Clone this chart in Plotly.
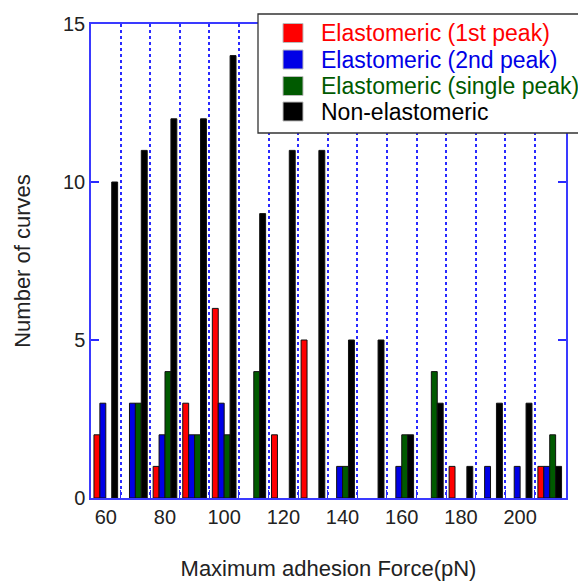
import plotly.graph_objects as go

forces = [60, 70, 80, 90, 100, 110, 120, 130, 140, 150, 160, 170, 180, 190, 200, 210]
first_peak = [2, 0, 1, 3, 6, 0, 2, 5, 0, 0, 0, 0, 1, 0, 0, 1]
second_peak = [3, 3, 2, 2, 3, 0, 0, 0, 1, 0, 1, 0, 0, 1, 1, 1]
single_peak = [0, 3, 4, 2, 2, 4, 0, 0, 1, 0, 2, 4, 0, 0, 0, 2]
non_elastomeric = [10, 11, 12, 12, 14, 9, 11, 11, 5, 5, 2, 3, 1, 3, 3, 1]

series_names = ["Elastomeric (1st peak)", "Elastomeric (2nd peak)",
                "Elastomeric (single peak)", "Non-elastomeric"]
series_colors = ["#ff0000", "#0000e6", "#005a00", "#000000"]
series_values = [first_peak, second_peak, single_peak, non_elastomeric]

x_tick_vals = [60, 80, 100, 120, 140, 160, 180, 200]
grid_vals = [65, 75, 85, 95, 105, 115, 125, 135, 145, 155, 165, 175, 185, 195, 205]
y_tick_vals = [0, 5, 10, 15]

FONT = "Liberation Sans, Arial, sans-serif"

# page offset (default body margin) and plot area in page pixels
OFF = 8
PL, PR, PT, PB = 91, 566, 24, 498
W, H = 586 - OFF, 581 - OFF


def px_x(x):
    return (x - PL) / (PR - PL)


def px_y(y):
    return (PB - y) / (PB - PT)


fig = go.Figure()
for name, color, vals in zip(series_names, series_colors, series_values):
    fig.add_trace(go.Bar(
        x=forces, y=vals, name=name, showlegend=False,
        marker=dict(color=color,
                    line=dict(color="#111111", width=[1 if v else 0 for v in vals])),
    ))

# legend box drawn by hand (larger swatches, tighter rows than plotly's legend)
shapes = [dict(type="rect", xref="paper", yref="paper",
               x0=px_x(258), x1=px_x(600), y0=px_y(133), y1=px_y(14),
               line=dict(color="#333333", width=1.3), fillcolor="white",
               layer="above")]
annotations = []
row_centers = [33, 59.5, 86, 111.5]
for name, color, yc in zip(series_names, series_colors, row_centers):
    shapes.append(dict(type="rect", xref="paper", yref="paper",
                       x0=px_x(283), x1=px_x(303),
                       y0=px_y(yc + 9.5), y1=px_y(yc - 9.5),
                       fillcolor=color, line=dict(color="#bbbbbb", width=1),
                       layer="above"))
    annotations.append(dict(xref="paper", yref="paper", x=px_x(319), y=px_y(yc),
                            xanchor="left", yanchor="middle", showarrow=False,
                            text=name, font=dict(family=FONT, size=23, color=color)))

fig.update_layout(
    width=W, height=H,
    margin=dict(l=PL - OFF, r=W + OFF - PR, t=PT - OFF, b=H + OFF - PB),
    paper_bgcolor="white", plot_bgcolor="white",
    barmode="group", bargap=0.2, bargroupgap=0.0,
    font=dict(family=FONT, size=20, color="#222222"),
    showlegend=False,
    shapes=shapes, annotations=annotations,
)
fig.update_xaxes(
    range=[55, 215.5], tickvals=x_tick_vals, ticks="", showgrid=False,
    showline=True, linecolor="#3a3aff", linewidth=1.5, mirror=True,
    zeroline=False, automargin=False,
    tickfont=dict(size=20, color="#222222"),
    minor=dict(tickvals=grid_vals, showgrid=True, griddash="dot",
               gridcolor="#2a2aff", gridwidth=1.5,
               ticks="inside", ticklen=8, tickcolor="#2a2aff"),
    title=dict(text="Maximum adhesion Force(pN)", font=dict(size=22, color="#222222"),
               standoff=37),
)
fig.update_yaxes(
    range=[0, 15], tickvals=y_tick_vals, ticks="inside", ticklen=8,
    tickcolor="#2a2aff", tickwidth=2, showgrid=False,
    showline=True, linecolor="#3a3aff", linewidth=1.5, mirror="ticks",
    zeroline=False, automargin=False,
    tickfont=dict(size=20, color="#222222"),
    title=dict(text="Number of curves", font=dict(size=22, color="#222222"),
               standoff=26),
)

fig.write_html("out.html")
